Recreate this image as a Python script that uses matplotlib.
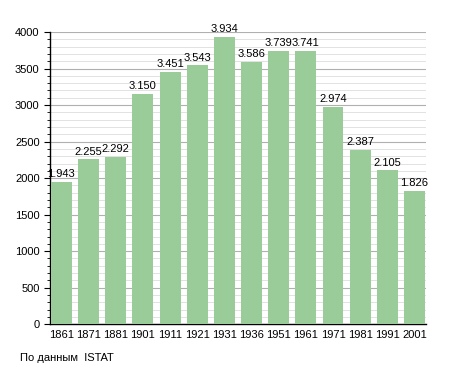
import numpy as np
import matplotlib.pyplot as plt
from matplotlib.ticker import MultipleLocator

years = ["1861", "1871", "1881", "1901", "1911", "1921", "1931",
         "1936", "1951", "1961", "1971", "1981", "1991", "2001"]
population = [1943, 2255, 2292, 3150, 3451, 3543, 3934,
              3586, 3739, 3741, 2974, 2387, 2105, 1826]
labels = ["1.943", "2.255", "2.292", "3.150", "3.451", "3.543", "3.934",
          "3.586", "3.739", "3.741", "2.974", "2.387", "2.105", "1.826"]

plt.rcParams['font.family'] = ['Liberation Sans', 'DejaVu Sans']

fig = plt.figure(figsize=(4.55, 3.73), dpi=100)
ax = fig.add_axes([0.110, 0.131, 0.826, 0.783])

x = np.arange(len(years))
ax.bar(x, population, width=0.77, color="#99cc99", zorder=3)
for xi, v, lab in zip(x, population, labels):
    ax.text(xi, v + 40, lab, ha="center", va="bottom", fontsize=8, zorder=4)

ax.set_xlim(-0.42, len(years) - 0.58)
ax.set_ylim(0, 4000)
ax.set_xticks(x)
ax.set_xticklabels(years, fontsize=8)
ax.yaxis.set_major_locator(MultipleLocator(500))
ax.yaxis.set_minor_locator(MultipleLocator(100))
ax.tick_params(axis="y", labelsize=8, length=4, width=0.8)
ax.tick_params(axis="y", which="minor", length=2, width=0.6)
ax.tick_params(axis="x", length=0, pad=4)
ax.grid(axis="y", which="major", color="#b0b0b0", linewidth=0.8, zorder=0)
ax.grid(axis="y", which="minor", color="#dddddd", linewidth=0.6, zorder=0)
for s in ["top", "right"]:
    ax.spines[s].set_visible(False)
ax.spines["left"].set_linewidth(1.0)
ax.spines["bottom"].set_linewidth(1.0)

fig.text(0.044, 0.027, "По данным  ISTAT", fontsize=8, ha="left", va="bottom")

fig.savefig("out.png", dpi=100)
